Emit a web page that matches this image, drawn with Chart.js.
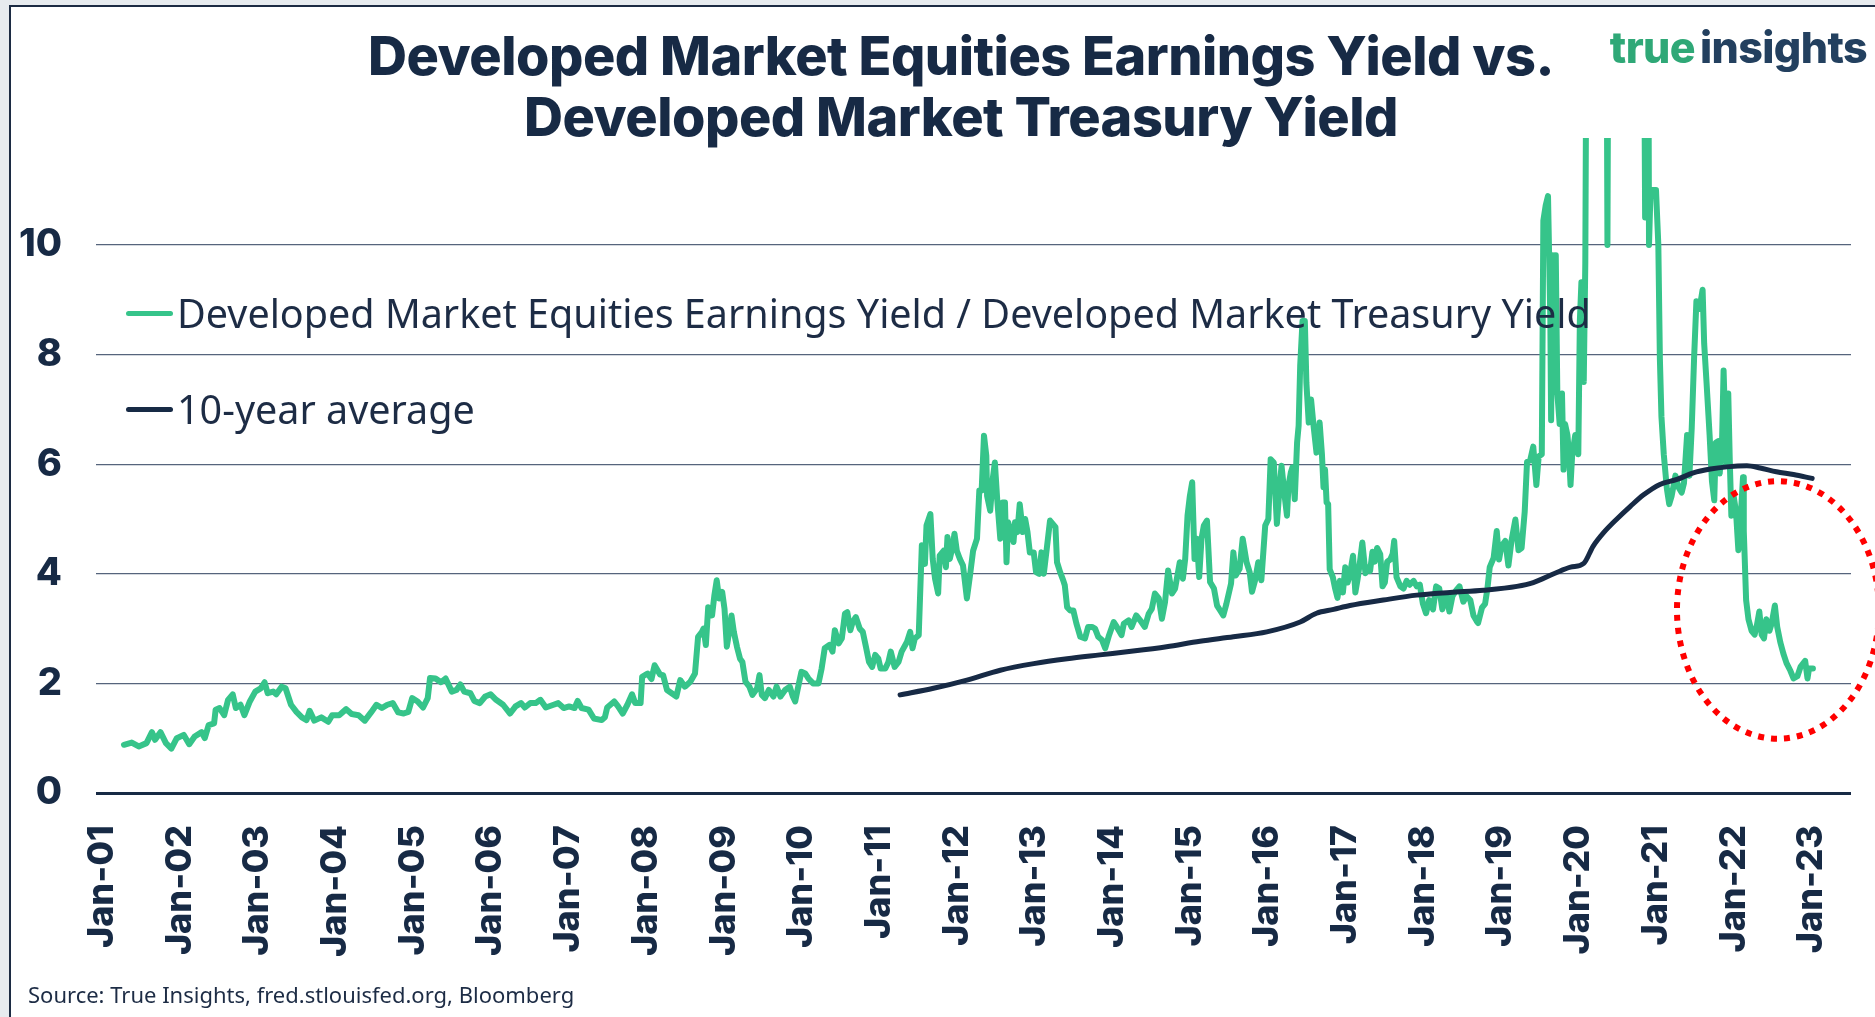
<!DOCTYPE html>
<html lang="en">
<head>
<meta charset="UTF-8">
<title>Developed Market Equities Earnings Yield vs. Developed Market Treasury Yield</title>
<script src="https://cdn.jsdelivr.net/npm/chart.js"></script>
<style>
  html, body { margin: 0; padding: 0; }
  body {
    width: 1875px; height: 1017px; position: relative; overflow: hidden;
    background: #e7ebef; font-family: 'Inter', sans-serif; color: #172a45;
  }
  .panel {
    position: absolute; left: 9px; top: 5px; right: 0; bottom: 0;
    background: #fff; border-left: 2px solid #1c2b43; border-top: 2px solid #1c2b43;
  }
  #chart { position: absolute; left: 0; top: 0; }
  .title {
    position: absolute; left: 961px; top: 25px; transform: translateX(-50%);
    text-align: center; white-space: nowrap;
    font: 800 54px/61px 'Inter', sans-serif; letter-spacing: -0.5px; color: #172a45;
  }
  .logo {
    position: absolute; right: 8px; top: 26px; white-space: nowrap;
    font: 800 43px/43px 'Inter', sans-serif; letter-spacing: -0.6px; word-spacing: -4px;
  }
  .logo .t1 { color: #2fa877; }
  .logo .t2 { color: #23405f; }
  .legend-item {
    position: absolute; left: 126px; height: 50px; display: flex; align-items: center;
    font: 400 39.5px/50px 'Noto Sans', sans-serif; color: #1d2c45; white-space: nowrap;
  }
  .legend-item .swatch { display: inline-block; width: 47px; height: 5px; border-radius: 3px; margin-right: 4px; }
  .source {
    position: absolute; left: 28px; top: 982px; white-space: nowrap;
    font: 400 22px/24px 'Noto Sans', sans-serif; color: #1d2c45;
  }
</style>
</head>
<body>
<div class="panel"></div>
<canvas id="chart" width="1875" height="1017"></canvas>
<div class="title"><div>Developed Market Equities Earnings Yield vs.</div><div>Developed Market Treasury Yield</div></div>
<div class="logo"><span class="t1">true</span> <span class="t2">insights</span></div>
<div id="legend"></div>
<div class="source">Source: True Insights, fred.stlouisfed.org, Bloomberg</div>

<script>
// --- series names ---
const seriesNames = [
  'Developed Market Equities Earnings Yield / Developed Market Treasury Yield',
  '10-year average'
];
const seriesColors = ['#36c48a', '#172a45'];

// --- ratio series (x = decimal year) ---
const ratioDates = [
  2001.28, 2001.38, 2001.47, 2001.57, 2001.64, 2001.68, 2001.75, 2001.82, 2001.89, 2001.96,
  2002.05, 2002.12, 2002.19, 2002.28, 2002.32, 2002.37, 2002.44, 2002.46, 2002.51, 2002.57,
  2002.62, 2002.68, 2002.72, 2002.78, 2002.83, 2002.90, 2002.97, 2003.04, 2003.09, 2003.13,
  2003.20, 2003.24, 2003.31, 2003.36, 2003.43, 2003.50, 2003.57, 2003.63, 2003.67, 2003.73,
  2003.82, 2003.91, 2003.96, 2004.05, 2004.14, 2004.21, 2004.30, 2004.38, 2004.46, 2004.53,
  2004.60, 2004.67, 2004.74, 2004.81, 2004.88, 2004.94, 2004.99, 2005.06, 2005.13, 2005.19,
  2005.22, 2005.29, 2005.36, 2005.42, 2005.50, 2005.56, 2005.61, 2005.66, 2005.74, 2005.79,
  2005.86, 2005.93, 2006.00, 2006.07, 2006.16, 2006.25, 2006.32, 2006.39, 2006.44, 2006.51,
  2006.58, 2006.64, 2006.71, 2006.81, 2006.87, 2006.94, 2007.01, 2007.08, 2007.12, 2007.17,
  2007.26, 2007.33, 2007.43, 2007.47, 2007.50, 2007.59, 2007.64, 2007.70, 2007.76, 2007.82,
  2007.86, 2007.93, 2007.95, 2008.02, 2008.07, 2008.11, 2008.18, 2008.22, 2008.27, 2008.33,
  2008.39, 2008.44, 2008.50, 2008.57, 2008.63, 2008.67, 2008.72, 2008.74, 2008.77, 2008.80,
  2008.85, 2008.88, 2008.91, 2008.94, 2008.98, 2009.01, 2009.04, 2009.07, 2009.10, 2009.13,
  2009.17, 2009.21, 2009.24, 2009.28, 2009.33, 2009.37, 2009.43, 2009.46, 2009.49, 2009.53,
  2009.58, 2009.64, 2009.68, 2009.73, 2009.79, 2009.85, 2009.89, 2009.92, 2009.95, 2010.00,
  2010.05, 2010.09, 2010.15, 2010.22, 2010.26, 2010.30, 2010.36, 2010.40, 2010.43, 2010.48,
  2010.52, 2010.56, 2010.59, 2010.63, 2010.66, 2010.70, 2010.75, 2010.79, 2010.83, 2010.87,
  2010.91, 2010.95, 2010.99, 2011.02, 2011.08, 2011.12, 2011.15, 2011.20, 2011.25, 2011.29,
  2011.36, 2011.40, 2011.43, 2011.46, 2011.51, 2011.55, 2011.59, 2011.61, 2011.66, 2011.69,
  2011.72, 2011.76, 2011.78, 2011.83, 2011.86, 2011.88, 2011.91, 2011.95, 2011.97, 2012.00,
  2012.04, 2012.08, 2012.13, 2012.17, 2012.21, 2012.26, 2012.29, 2012.32, 2012.35, 2012.38,
  2012.39, 2012.43, 2012.46, 2012.49, 2012.52, 2012.56, 2012.59, 2012.62, 2012.64, 2012.66,
  2012.70, 2012.73, 2012.75, 2012.78, 2012.81, 2012.85, 2012.88, 2012.91, 2012.94, 2012.99,
  2013.02, 2013.06, 2013.09, 2013.12, 2013.16, 2013.20, 2013.27, 2013.29, 2013.33, 2013.37,
  2013.39, 2013.42, 2013.46, 2013.50, 2013.54, 2013.59, 2013.65, 2013.69, 2013.74, 2013.78,
  2013.82, 2013.87, 2013.91, 2013.96, 2014.02, 2014.06, 2014.12, 2014.15, 2014.21, 2014.25,
  2014.31, 2014.36, 2014.42, 2014.47, 2014.51, 2014.55, 2014.60, 2014.64, 2014.68, 2014.72,
  2014.77, 2014.81, 2014.87, 2014.91, 2014.94, 2014.97, 2015.00, 2015.03, 2015.06, 2015.09,
  2015.12, 2015.15, 2015.18, 2015.22, 2015.26, 2015.31, 2015.35, 2015.39, 2015.43, 2015.47,
  2015.53, 2015.56, 2015.59, 2015.64, 2015.68, 2015.73, 2015.77, 2015.80, 2015.84, 2015.88,
  2015.92, 2015.97, 2016.01, 2016.04, 2016.08, 2016.12, 2016.15, 2016.18, 2016.22, 2016.25,
  2016.27, 2016.30, 2016.32, 2016.35, 2016.38, 2016.40, 2016.42, 2016.45, 2016.48, 2016.50,
  2016.53, 2016.56, 2016.59, 2016.63, 2016.67, 2016.70, 2016.72, 2016.74, 2016.76, 2016.78,
  2016.80, 2016.84, 2016.87, 2016.90, 2016.93, 2016.97, 2017.00, 2017.03, 2017.06, 2017.10,
  2017.13, 2017.16, 2017.19, 2017.22, 2017.26, 2017.29, 2017.32, 2017.35, 2017.38, 2017.41,
  2017.45, 2017.48, 2017.51, 2017.54, 2017.58, 2017.61, 2017.63, 2017.66, 2017.71, 2017.75,
  2017.79, 2017.83, 2017.88, 2017.92, 2017.96, 2018.00, 2018.04, 2018.08, 2018.13, 2018.17,
  2018.21, 2018.25, 2018.30, 2018.34, 2018.38, 2018.43, 2018.47, 2018.52, 2018.56, 2018.61,
  2018.65, 2018.69, 2018.71, 2018.76, 2018.80, 2018.83, 2018.86, 2018.91, 2018.95, 2018.98,
  2019.01, 2019.06, 2019.10, 2019.14, 2019.19, 2019.23, 2019.27, 2019.31, 2019.34, 2019.38,
  2019.42, 2019.46, 2019.49, 2019.53, 2019.55, 2019.58, 2019.61, 2019.64, 2019.65, 2019.67,
  2019.69, 2019.71, 2019.73, 2019.76, 2019.79, 2019.81, 2019.83, 2019.86, 2019.88, 2019.90,
  2019.92, 2019.96, 2020.00, 2020.02, 2020.04, 2020.07, 2020.09, 2020.11, 2020.36, 2020.375,
  2020.39, 2020.84, 2020.86, 2020.88, 2020.90, 2020.91, 2020.93, 2021.00, 2021.03, 2021.05,
  2021.07, 2021.10, 2021.14, 2021.17, 2021.20, 2021.25, 2021.29, 2021.33, 2021.36, 2021.40,
  2021.43, 2021.46, 2021.49, 2021.52, 2021.56, 2021.60, 2021.62, 2021.65, 2021.69, 2021.72,
  2021.75, 2021.77, 2021.80, 2021.82, 2021.85, 2021.87, 2021.89, 2021.91, 2021.93, 2021.95,
  2021.97, 2022.00, 2022.03, 2022.06, 2022.08, 2022.12, 2022.13, 2022.16, 2022.19, 2022.23,
  2022.27, 2022.30, 2022.33, 2022.36, 2022.39, 2022.42, 2022.46, 2022.49, 2022.53, 2022.56,
  2022.60, 2022.64, 2022.68, 2022.73, 2022.77, 2022.82, 2022.86, 2022.92, 2022.95, 2022.97, 2023.02
];
const ratioValues = [
  0.88, 0.92, 0.85, 0.91, 1.11, 0.97, 1.11, 0.91, 0.81, 1.00,
  1.06, 0.89, 1.03, 1.11, 1.00, 1.24, 1.27, 1.52, 1.55, 1.42,
  1.70, 1.80, 1.55, 1.61, 1.42, 1.67, 1.85, 1.91, 2.02, 1.82,
  1.85, 1.80, 1.94, 1.91, 1.61, 1.48, 1.38, 1.33, 1.50, 1.32,
  1.38, 1.30, 1.42, 1.42, 1.53, 1.44, 1.42, 1.32, 1.47, 1.61,
  1.55, 1.61, 1.64, 1.47, 1.45, 1.48, 1.73, 1.67, 1.56, 1.73,
  2.10, 2.09, 2.02, 2.09, 1.85, 1.88, 1.98, 1.85, 1.82, 1.68,
  1.64, 1.76, 1.80, 1.70, 1.61, 1.45, 1.58, 1.64, 1.56, 1.64,
  1.64, 1.70, 1.56, 1.61, 1.64, 1.55, 1.58, 1.55, 1.68, 1.55,
  1.52, 1.36, 1.33, 1.38, 1.56, 1.67, 1.58, 1.45, 1.61, 1.80,
  1.64, 1.64, 2.12, 2.18, 2.08, 2.33, 2.16, 2.15, 1.88, 1.82,
  1.76, 2.06, 1.94, 2.03, 2.18, 2.85, 2.94, 3.00, 2.70, 3.39,
  3.24, 3.61, 3.88, 3.55, 3.67, 3.36, 2.67, 2.94, 3.24, 2.94,
  2.67, 2.45, 2.39, 2.03, 1.94, 1.79, 1.91, 2.15, 1.79, 1.73,
  1.88, 1.76, 1.94, 1.76, 1.88, 1.94, 1.76, 1.67, 1.88, 2.21,
  2.18, 2.09, 2.00, 2.00, 2.27, 2.64, 2.70, 2.58, 2.97, 2.73,
  2.82, 3.27, 3.30, 2.97, 3.12, 3.21, 3.00, 2.94, 2.67, 2.39,
  2.30, 2.52, 2.45, 2.27, 2.27, 2.39, 2.58, 2.30, 2.39, 2.58,
  2.76, 2.94, 2.64, 2.82, 2.88, 4.52, 4.18, 4.88, 5.09, 4.27,
  3.91, 3.64, 4.33, 4.42, 4.12, 4.67, 4.27, 4.52, 4.73, 4.42,
  4.27, 4.15, 3.55, 3.97, 4.42, 4.64, 5.52, 5.52, 6.52, 6.15,
  5.42, 5.15, 5.70, 6.03, 5.36, 4.64, 5.30, 5.30, 4.21, 4.94,
  4.76, 4.58, 4.94, 4.76, 5.27, 4.76, 5.00, 4.76, 4.39, 4.39,
  4.03, 4.00, 4.39, 4.00, 4.48, 4.97, 4.85, 4.21, 4.03, 3.88,
  3.79, 3.39, 3.33, 3.33, 3.09, 2.85, 2.82, 3.03, 3.03, 3.00,
  2.85, 2.79, 2.64, 2.88, 3.12, 3.03, 2.88, 3.09, 3.15, 3.03,
  3.24, 3.15, 3.03, 3.27, 3.36, 3.64, 3.55, 3.18, 3.48, 4.06,
  3.64, 3.73, 4.21, 3.91, 4.27, 5.06, 5.42, 5.67, 4.27, 4.64,
  3.94, 4.64, 4.88, 4.97, 3.85, 3.73, 3.42, 3.33, 3.24, 3.45,
  3.82, 4.39, 3.97, 4.09, 4.64, 4.21, 4.03, 3.67, 3.88, 4.21,
  3.88, 4.88, 5.00, 6.09, 6.03, 4.91, 5.48, 5.97, 5.42, 5.06,
  5.61, 5.85, 5.94, 5.36, 6.39, 6.70, 7.79, 8.61, 8.61, 7.48,
  6.76, 7.18, 6.73, 6.21, 6.76, 6.18, 5.58, 5.90, 5.30, 5.27,
  4.08, 3.94, 3.73, 3.56, 3.87, 3.66, 4.12, 3.84, 3.98, 4.33,
  3.66, 3.91, 4.22, 4.57, 4.01, 4.12, 4.05, 4.40, 4.22, 4.47,
  4.36, 3.77, 3.84, 4.22, 4.26, 4.36, 4.60, 3.94, 3.77, 3.73,
  3.87, 3.80, 3.87, 3.77, 3.80, 3.45, 3.28, 3.52, 3.35, 3.77,
  3.73, 3.35, 3.63, 3.31, 3.59, 3.70, 3.77, 3.49, 3.59, 3.52,
  3.24, 3.14, 3.10, 3.38, 3.45, 3.73, 4.12, 4.29, 4.78, 4.26,
  4.50, 4.60, 4.15, 4.60, 4.99, 4.43, 4.47, 5.13, 6.04, 6.07,
  6.32, 5.62, 6.14, 6.18, 10.44, 10.72, 10.89, 8.62, 6.80, 9.81,
  8.76, 9.81, 7.29, 6.73, 7.29, 5.90, 6.73, 6.53, 6.18, 5.62,
  6.14, 6.53, 6.18, 8.62, 9.32, 7.50, 9.67, 16.0, 16.0, 10.0,
  16.0, 16.0, 10.5, 15.0, 15.0, 10.0, 11.0, 11.0, 10.0, 7.92,
  6.87, 6.18, 5.55, 5.27, 5.41, 5.79, 5.58, 5.48, 5.65, 6.53,
  5.79, 6.66, 7.92, 8.97, 8.83, 9.18, 8.20, 7.50, 6.53, 5.69,
  5.34, 6.39, 6.42, 5.83, 6.39, 7.71, 6.73, 5.97, 7.29, 6.04,
  5.06, 5.41, 5.13, 4.43, 4.78, 5.76, 4.78, 3.52, 3.17, 2.96,
  2.89, 3.07, 3.31, 2.89, 2.82, 3.17, 2.96, 3.10, 3.42, 3.03,
  2.75, 2.54, 2.37, 2.23, 2.09, 2.13, 2.30, 2.41, 2.09, 2.27, 2.27
];

// --- 10-year average ---
const avgDates = [
  2011.27, 2011.70, 2012.13, 2012.56, 2012.99, 2013.42, 2013.84, 2014.27, 2014.70, 2015.13,
  2015.56, 2015.99, 2016.42, 2016.63, 2016.85, 2017.06, 2017.49, 2017.92, 2018.35, 2018.78,
  2019.21, 2019.42, 2019.70, 2019.90, 2020.07, 2020.19, 2020.32, 2020.49, 2020.67, 2020.84,
  2021.05, 2021.27, 2021.48, 2021.70, 2021.91, 2022.17, 2022.34, 2022.55, 2022.77, 2023.01
];
const avgValues = [
  1.79, 1.91, 2.06, 2.24, 2.36, 2.45, 2.52, 2.59, 2.67, 2.77,
  2.85, 2.94, 3.12, 3.28, 3.35, 3.42, 3.52, 3.61, 3.66, 3.70,
  3.77, 3.84, 4.01, 4.12, 4.19, 4.50, 4.74, 4.99, 5.23, 5.44,
  5.63, 5.72, 5.84, 5.91, 5.95, 5.97, 5.93, 5.86, 5.81, 5.74
];

// --- axes ---
const tickYears = [2001, 2002, 2003, 2004, 2005, 2006, 2007, 2008, 2009, 2010, 2011, 2012,
                   2013, 2014, 2015, 2016, 2017, 2018, 2019, 2020, 2021, 2022, 2023];
const tickLabels = ['Jan-01', 'Jan-02', 'Jan-03', 'Jan-04', 'Jan-05', 'Jan-06', 'Jan-07', 'Jan-08',
                    'Jan-09', 'Jan-10', 'Jan-11', 'Jan-12', 'Jan-13', 'Jan-14', 'Jan-15', 'Jan-16',
                    'Jan-17', 'Jan-18', 'Jan-19', 'Jan-20', 'Jan-21', 'Jan-22', 'Jan-23'];
const yTicks = [0, 2, 4, 6, 8, 10];

// red dotted ring highlighting the recent drop (centre and radii in data units)
const ringCenter = [2022.57, 3.34];
const ringRadius = [1.30, 2.35];

const navy = '#172a45';
const gridGray = '#56647c';

const ringPlugin = {
  id: 'ring',
  afterDraw(chart) {
    const { ctx, scales: { x, y } } = chart;
    const cx = x.getPixelForValue(ringCenter[0]);
    const cy = y.getPixelForValue(ringCenter[1]);
    const rx = x.getPixelForValue(ringCenter[0] + ringRadius[0]) - cx;
    const ry = cy - y.getPixelForValue(ringCenter[1] + ringRadius[1]);
    ctx.save();
    ctx.strokeStyle = '#ff0000';
    ctx.lineWidth = 6;
    ctx.setLineDash([6, 7]);
    ctx.beginPath();
    ctx.ellipse(cx, cy, rx, ry, 0, 0, Math.PI * 2);
    ctx.stroke();
    ctx.restore();
  }
};

const chart = new Chart(document.getElementById('chart'), {
  type: 'line',
  data: {
    datasets: [
      {
        label: seriesNames[0],
        data: ratioDates.map((d, i) => ({ x: d, y: ratioValues[i] })),
        borderColor: seriesColors[0],
        borderWidth: 6,
        borderJoinStyle: 'round',
        borderCapStyle: 'round',
        pointRadius: 0,
        tension: 0,
        order: 2
      },
      {
        label: seriesNames[1],
        data: avgDates.map((d, i) => ({ x: d, y: avgValues[i] })),
        borderColor: seriesColors[1],
        borderWidth: 5,
        borderCapStyle: 'round',
        pointRadius: 0,
        cubicInterpolationMode: 'monotone',
        order: 1
      }
    ]
  },
  options: {
    responsive: false,
    animation: false,
    layout: { padding: { left: 0, right: 24, top: 138, bottom: 0 } },
    plugins: { legend: { display: false }, tooltip: { enabled: false }, title: { display: false } },
    scales: {
      x: {
        type: 'linear',
        min: 2000.92,
        max: 2023.51,
        afterBuildTicks: (scale) => { scale.ticks = tickYears.map(v => ({ value: v })); },
        afterFit: (scale) => {
          scale.height = 224;
          scale.paddingLeft = 0;
          scale.paddingRight = 0;
        },
        grid: { display: false, drawTicks: false },
        border: { display: false },
        ticks: {
          autoSkip: false,
          minRotation: 90,
          maxRotation: 90,
          padding: 32,
          color: navy,
          font: { family: 'Inter', size: 36, weight: '800' },
          callback: (v) => tickLabels[tickYears.indexOf(v)]
        }
      },
      y: {
        min: 0,
        max: 11.95,
        afterBuildTicks: (scale) => { scale.ticks = yTicks.map(v => ({ value: v })); },
        afterFit: (scale) => { scale.width = 96; },
        grid: {
          drawTicks: false,
          color: (c) => c.tick && c.tick.value === 0 ? navy : gridGray,
          lineWidth: (c) => c.tick && c.tick.value === 0 ? 3 : 1.2
        },
        border: { display: false },
        ticks: {
          padding: 34,
          color: navy,
          font: { family: 'Inter', size: 38, weight: '800' }
        }
      }
    }
  },
  plugins: [ringPlugin]
});

// legend drawn as HTML over the plot, built from the datasets
const legendTops = [288, 384];
const legendBox = document.getElementById('legend');
chart.data.datasets.forEach((ds, i) => {
  const item = document.createElement('div');
  item.className = 'legend-item';
  item.style.top = legendTops[i] + 'px';
  const sw = document.createElement('span');
  sw.className = 'swatch';
  sw.style.background = ds.borderColor;
  item.appendChild(sw);
  item.appendChild(document.createTextNode(ds.label));
  legendBox.appendChild(item);
});
</script>
</body>
</html>
